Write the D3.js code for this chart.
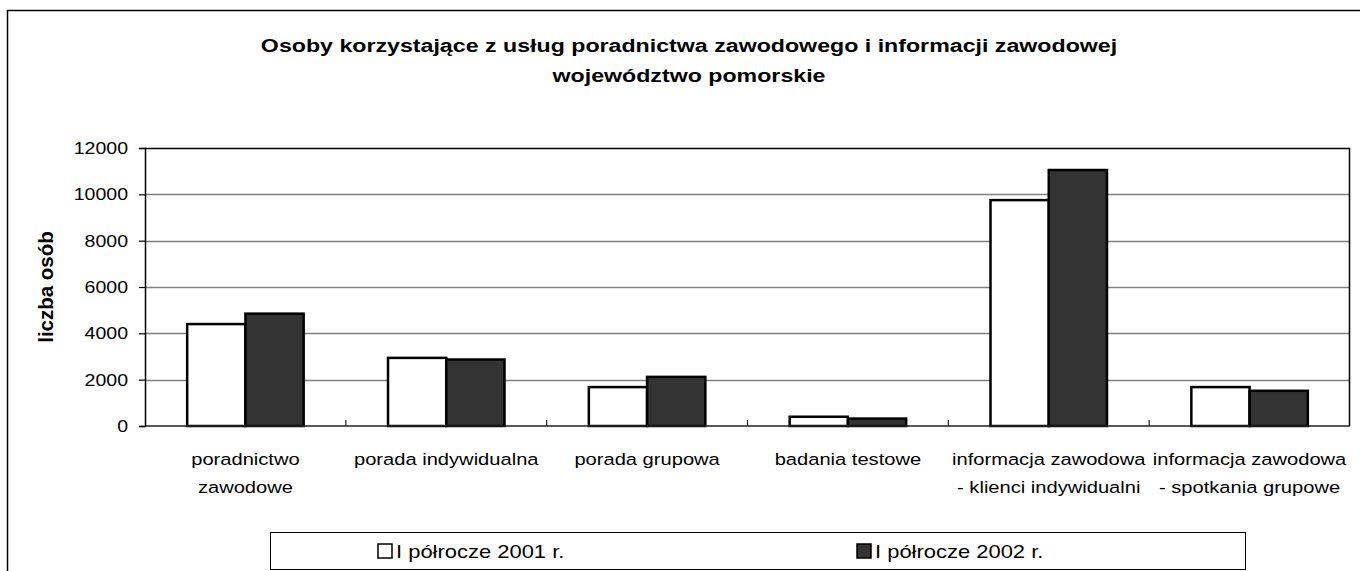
<!DOCTYPE html>
<html>
<head>
<meta charset="utf-8">
<script src="https://cdn.jsdelivr.net/npm/d3@7"></script>
<style>
  html, body { margin: 0; padding: 0; background: #fff; }
  svg { display: block; font-family: "Liberation Sans", Arial, sans-serif; }
</style>
</head>
<body>
<svg id="chart" width="1360" height="571"></svg>
<script>
const categories = [
  ["poradnictwo", "zawodowe"],
  ["porada indywidualna"],
  ["porada grupowa"],
  ["badania testowe"],
  ["informacja zawodowa", "- klienci indywidualni"],
  ["informacja zawodowa", "- spotkania grupowe"]
];
const seriesNames = ["I półrocze 2001 r.", "I półrocze 2002 r."];
const values2001 = [4400, 2940, 1680, 400, 9750, 1680];
const values2002 = [4850, 2870, 2120, 320, 11050, 1520];
const yTicks = [0, 2000, 4000, 6000, 8000, 10000, 12000];
const titleLines = ["Osoby korzystające z usług poradnictwa zawodowego i informacji zawodowej", "województwo pomorskie"];
const yLabel = "liczba osób";

const SX = 1.22; // horizontal stretch of the reference text
const svg = d3.select("#chart");
const colors = ["#ffffff", "#333333"];

// outer frame
svg.append("rect").attr("x", 7.5).attr("y", 10.5).attr("width", 1400).attr("height", 600)
  .attr("fill", "none").attr("stroke", "#000").attr("stroke-width", 1.5);

const plot = { left: 145, right: 1350, top: 148, bottom: 426 };

const x = d3.scaleBand().domain(d3.range(categories.length))
  .range([plot.left, plot.right]).paddingInner(0.42).paddingOuter(0.21);
const xs = d3.scaleBand().domain([0, 1]).range([0, x.bandwidth()]);
const y = d3.scaleLinear().domain([0, 12000]).range([plot.bottom, plot.top]);

// title
svg.append("g").selectAll("text").data(titleLines).join("text")
  .attr("transform", (d, i) => `translate(689,${52 + i * 30}) scale(${SX},1)`)
  .attr("text-anchor", "middle").attr("font-weight", "bold").attr("font-size", 19)
  .text(d => d);

// gridlines
svg.append("g").selectAll("line").data(yTicks.filter(t => t > 0 && t < 12000)).join("line")
  .attr("x1", plot.left).attr("x2", plot.right)
  .attr("y1", d => Math.round(y(d)) + 0.5).attr("y2", d => Math.round(y(d)) + 0.5)
  .attr("stroke", "#808080").attr("stroke-width", 1.5);

// plot border top & right
svg.append("path")
  .attr("d", `M${plot.left},${plot.top + 0.5}H${plot.right - 0.5}V${plot.bottom}`)
  .attr("fill", "none").attr("stroke", "#000").attr("stroke-width", 1.5);

// bars
const data = categories.map((c, i) => [values2001[i], values2002[i]]);
const g = svg.append("g");
g.selectAll("g").data(data).join("g")
  .attr("transform", (d, i) => `translate(${x(i)},0)`)
  .selectAll("rect").data(d => d.map((v, j) => ({ v, j }))).join("rect")
  .attr("x", d => xs(d.j)).attr("width", xs.bandwidth())
  .attr("y", d => y(d.v)).attr("height", d => y(0) - y(d.v))
  .attr("fill", d => colors[d.j]).attr("stroke", "#000").attr("stroke-width", 2.5);

// y axis
const yAxis = svg.append("g").attr("transform", `translate(${plot.left},0)`)
  .call(d3.axisLeft(y).tickValues(yTicks).tickSize(6).tickFormat(""));
yAxis.select(".domain").attr("stroke", "#000").attr("stroke-width", 1.5);
yAxis.selectAll(".tick line").attr("stroke", "#000").attr("stroke-width", 1.2);
svg.append("g").selectAll("text").data(yTicks).join("text")
  .attr("transform", d => `translate(128,${y(d) + 6}) scale(${SX},1)`)
  .attr("text-anchor", "end").attr("font-size", 16).text(d3.format("d"));

// x axis
const boundaries = d3.range(categories.length + 1).map(i => plot.left + i * x.step());
const xAxis = svg.append("g").attr("transform", `translate(0,${plot.bottom})`);
xAxis.append("line").attr("x1", plot.left).attr("x2", plot.right)
  .attr("stroke", "#222").attr("stroke-width", 1.5);
xAxis.selectAll(".tk").data(boundaries.slice(1, -1)).join("line").attr("class", "tk")
  .attr("x1", d => d).attr("x2", d => d).attr("y1", 0).attr("y2", -6)
  .attr("stroke", "#222").attr("stroke-width", 1.2);

svg.append("g").selectAll("g").data(categories).join("g")
  .attr("transform", (d, i) => `translate(${x(i) + x.bandwidth() / 2},0)`)
  .selectAll("text").data(d => d).join("text")
  .attr("text-anchor", "middle").attr("font-size", 16.5)
  .attr("transform", (d, i) => `translate(0,${465 + i * 28}) scale(${SX},1)`)
  .text(d => d);

// y label
svg.append("text").attr("transform", `translate(53,287) rotate(-90)`)
  .attr("text-anchor", "middle").attr("font-weight", "bold").attr("font-size", 20.5)
  .text(yLabel);

// legend
const leg = svg.append("g");
leg.append("rect").attr("x", 270.5).attr("y", 532.5).attr("width", 975).attr("height", 37)
  .attr("fill", "#fff").attr("stroke", "#000").attr("stroke-width", 1);
const legX = [378, 857];
const li = leg.selectAll("g").data(seriesNames).join("g")
  .attr("transform", (d, i) => `translate(${legX[i]},551)`);
li.append("rect").attr("x", 0).attr("y", -7).attr("width", 14).attr("height", 14)
  .attr("fill", (d, i) => colors[i]).attr("stroke", "#000").attr("stroke-width", 1.5);
li.append("text").attr("transform", `translate(18,7) scale(${SX},1)`)
  .attr("font-size", 18).text(d => d);
</script>
</body>
</html>
